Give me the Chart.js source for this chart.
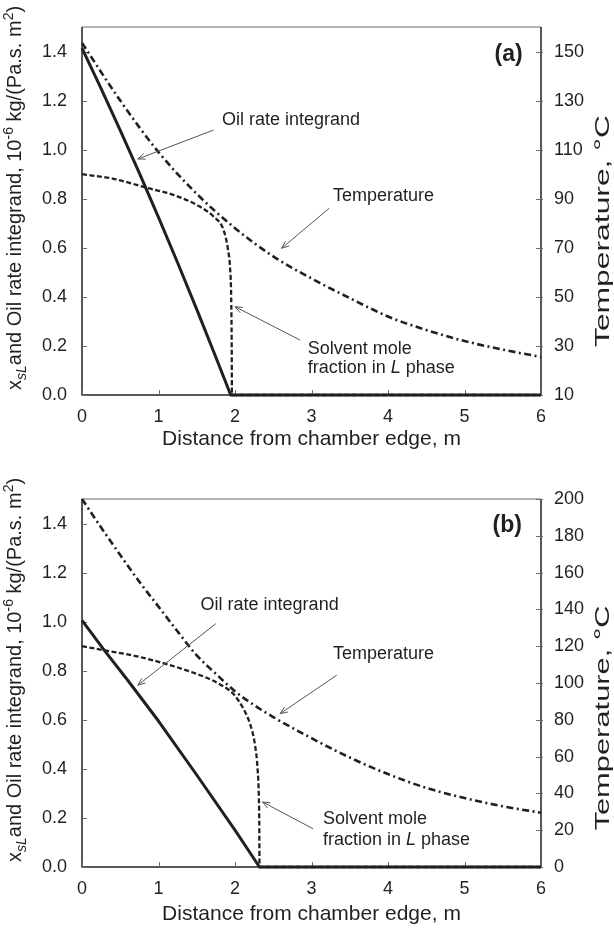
<!DOCTYPE html>
<html>
<head>
<meta charset="utf-8">
<script src="https://cdn.jsdelivr.net/npm/chart.js@4.4.1/dist/chart.umd.min.js"></script>
<style>
  html, body { margin: 0; padding: 0; background: #fff; }
  .panel { width: 614px; height: 464px; }
</style>
</head>
<body>
<div class="panel"><canvas id="chartA" width="614" height="464"></canvas></div>
<div class="panel"><canvas id="chartB" width="614" height="464"></canvas></div>
<script>
// ---- axis ticks ----
const distanceTicks = [0, 1, 2, 3, 4, 5, 6];
const fractionTicks = [0, 0.2, 0.4, 0.6, 0.8, 1.0, 1.2, 1.4];
const tempTicksA = [10, 30, 50, 70, 90, 110, 130, 150];
const tempTicksB = [0, 20, 40, 60, 80, 100, 120, 140, 160, 180, 200];

// ---- panel (a) ----
const oilDistA = [0, 0.25, 0.5, 0.75, 1.0, 1.25, 1.5, 1.75, 1.944, 6];
const oilRateA = [1.414, 1.249, 1.079, 0.904, 0.724, 0.539, 0.349, 0.154, 0, 0];
const solventDistA = [0, 0.4, 0.867, 1.2, 1.54, 1.72, 1.85, 1.91, 1.935, 1.95, 1.957, 1.96, 6];
const solventFracA = [0.9, 0.882, 0.843, 0.815, 0.768, 0.727, 0.673, 0.59, 0.52, 0.4, 0.2, 0, 0];
const tempDistA = [0, 0.5, 1, 1.5, 2, 2.5, 3, 3.5, 4, 4.5, 5, 5.5, 6];
const tempA = [153.5, 130, 109, 92, 78, 66.5, 57.5, 49.5, 42, 36.5, 32, 28.5, 25.5];

// ---- panel (b) ----
const oilDistB = [0, 0.3, 0.6, 1.0, 1.5, 2.0, 2.32, 6];
const oilRateB = [1.005, 0.88, 0.76, 0.595, 0.375, 0.15, 0, 0];
const solventDistB = [0, 0.3, 0.7, 1.085, 1.4, 1.6, 1.8, 1.98, 2.11, 2.2, 2.26, 2.295, 2.312, 2.318, 2.32, 6];
const solventFracB = [0.9, 0.883, 0.86, 0.829, 0.798, 0.775, 0.745, 0.705, 0.645, 0.58, 0.5, 0.4, 0.28, 0.15, 0, 0];
const tempDistB = [0, 0.25, 0.5, 0.75, 1, 1.25, 1.5, 1.75, 2, 2.25, 2.5, 3, 3.5, 4, 4.5, 5, 5.5, 6];
const tempB = [200, 184.5, 169.5, 155, 141.5, 128, 115, 105, 95.5, 88, 81.5, 70, 59.5, 50.5, 43, 37.5, 33, 29.5];

const INK = '#231f20';
const FONT = '"Liberation Sans", Arial, Helvetica, sans-serif';
Chart.defaults.font.family = FONT;
Chart.defaults.color = INK;

const toPoints = (xs, ys) => xs.map((x, i) => ({ x: x, y: ys[i] }));

function drawRuns(ctx, runs, x, y) {
  let cx = x;
  runs.forEach(r => {
    ctx.font = r.font + ' ' + FONT;
    ctx.fillText(r.text, cx, y + (r.dy || 0));
    cx += ctx.measureText(r.text).width;
  });
}

function arrow(ctx, x1, y1, x2, y2) {
  const ang = Math.atan2(y2 - y1, x2 - x1);
  const len = 8, spread = 0.38;
  ctx.beginPath();
  ctx.moveTo(x1, y1);
  ctx.lineTo(x2, y2);
  ctx.moveTo(x2 - len * Math.cos(ang - spread), y2 - len * Math.sin(ang - spread));
  ctx.lineTo(x2, y2);
  ctx.lineTo(x2 - len * Math.cos(ang + spread), y2 - len * Math.sin(ang + spread));
  ctx.stroke();
}

function panelDecor(panel) {
  return {
    id: 'panelDecor',
    beforeDatasetsDraw(chart) {
      const { ctx, chartArea: a, scales } = chart;
      ctx.save();
      // frame
      ctx.lineWidth = 1.5;
      ctx.strokeStyle = '#9a9a9a';
      ctx.beginPath(); ctx.moveTo(a.left, a.top); ctx.lineTo(a.right, a.top); ctx.stroke();
      ctx.strokeStyle = INK;
      ctx.beginPath();
      ctx.moveTo(a.left, a.top); ctx.lineTo(a.left, a.bottom); ctx.lineTo(a.right, a.bottom);
      ctx.moveTo(a.right, a.top); ctx.lineTo(a.right, a.bottom);
      ctx.stroke();
      // inside tick marks
      ctx.lineWidth = 1;
      ctx.strokeStyle = '#6d6d6d';
      ctx.beginPath();
      distanceTicks.forEach(v => {
        const px = Math.round(scales.x.getPixelForValue(v)) + 0.5;
        ctx.moveTo(px, a.bottom); ctx.lineTo(px, a.bottom - 5);
      });
      fractionTicks.forEach(v => {
        const py = Math.round(scales.y.getPixelForValue(v)) + 0.5;
        ctx.moveTo(a.left, py); ctx.lineTo(a.left + 5, py);
      });
      panel.tempTicks.forEach(v => {
        const py = Math.round(scales.y2.getPixelForValue(v)) + 0.5;
        ctx.moveTo(a.right - 5, py); ctx.lineTo(a.right + 2, py);
      });
      ctx.stroke();
      ctx.restore();
    },
    afterDatasetsDraw(chart) {
      const { ctx, chartArea: a, scales } = chart;
      const px = v => scales.x.getPixelForValue(v);
      const py = v => scales.y.getPixelForValue(v);
      ctx.save();
      ctx.fillStyle = INK;
      ctx.textBaseline = 'middle';
      ctx.textAlign = 'left';
      // notes and arrows
      panel.notes.forEach(n => drawRuns(ctx, n.runs, px(n.x), py(n.y)));
      ctx.strokeStyle = '#555';
      ctx.lineWidth = 1;
      panel.arrows.forEach(ar => arrow(ctx, px(ar[0]), py(ar[1]), px(ar[2]), py(ar[3])));
      // panel tag
      ctx.textAlign = 'right';
      ctx.font = 'bold 23px ' + FONT;
      ctx.fillText(panel.tag, px(panel.tagPos[0]), py(panel.tagPos[1]));
      // x title
      ctx.textAlign = 'center';
      ctx.font = '21px ' + FONT;
      ctx.fillText('Distance from chamber edge, m', (a.left + a.right) / 2, a.bottom + panel.xTitleGap);
      // left title (rotated)
      ctx.save();
      ctx.translate(21, a.bottom - 5);
      ctx.rotate(-Math.PI / 2);
      ctx.textAlign = 'left';
      ctx.textBaseline = 'alphabetic';
      drawRuns(ctx, [
        { text: 'x', font: '20px' },
        { text: 'sL', font: 'italic 14px', dy: 5 },
        { text: 'and Oil rate integrand, 10', font: '20px' },
        { text: '-6', font: '14px', dy: -8 },
        { text: ' kg/(Pa.s. m', font: '20px' },
        { text: '2', font: '14px', dy: -8 },
        { text: ')', font: '20px' }
      ], 0, 0);
      ctx.restore();
      // right title (rotated)
      ctx.save();
      ctx.translate(609, panel.rightTitleY);
      ctx.rotate(-Math.PI / 2);
      ctx.textAlign = 'center';
      ctx.textBaseline = 'alphabetic';
      ctx.font = '20px ' + FONT;
      const rt = 'Temperature, \u00B0C';
      ctx.scale(panel.rightTitleLen / ctx.measureText(rt).width, 1);
      ctx.fillText(rt, 0, 0);
      ctx.restore();
      ctx.restore();
    }
  };
}

function buildPanel(canvasId, panel) {
  const canvas = document.getElementById(canvasId);
  const H = canvas.height;
  const tickFont = { size: 18 };
  return new Chart(canvas, {
    type: 'line',
    data: {
      datasets: [
        {
          label: 'Oil rate integrand',
          data: toPoints(panel.oilDist, panel.oilRate),
          yAxisID: 'y',
          borderColor: INK,
          borderWidth: 3,
          tension: 0,
          borderJoinStyle: 'round',
          clip: 4
        },
        {
          label: 'Solvent mole fraction in L phase',
          data: toPoints(panel.solventDist, panel.solventFrac),
          yAxisID: 'y',
          borderColor: INK,
          borderWidth: 2.3,
          borderDash: [5, 2.5],
          cubicInterpolationMode: 'monotone',
          clip: 4
        },
        {
          label: 'Temperature',
          data: toPoints(panel.tempDist, panel.temp),
          yAxisID: 'y2',
          borderColor: INK,
          borderWidth: 2.6,
          borderDash: [7, 3.5, 2, 3.5],
          cubicInterpolationMode: 'monotone',
          clip: 4
        }
      ]
    },
    options: {
      responsive: false,
      animation: false,
      devicePixelRatio: 1,
      layout: { padding: { top: panel.plotTop, left: 0, right: 0, bottom: 0 } },
      elements: { point: { radius: 0, hoverRadius: 0 } },
      plugins: { legend: { display: false }, tooltip: { enabled: false } },
      scales: {
        x: {
          type: 'linear',
          position: 'bottom',
          min: 0,
          max: 6,
          afterFit: s => { s.height = H - panel.plotBottom; },
          afterBuildTicks: s => { s.ticks = distanceTicks.map(v => ({ value: v })); },
          ticks: { font: tickFont, color: INK, padding: 3, maxRotation: 0 },
          grid: { display: false },
          border: { display: false }
        },
        y: {
          type: 'linear',
          position: 'left',
          min: 0,
          max: 1.5,
          afterFit: s => { s.width = 82; },
          afterBuildTicks: s => { s.ticks = fractionTicks.map(v => ({ value: v })); },
          ticks: { font: tickFont, color: INK, padding: 7, callback: v => v.toFixed(1) },
          grid: { display: false },
          border: { display: false }
        },
        y2: {
          type: 'linear',
          position: 'right',
          min: panel.tempMin,
          max: panel.tempMax,
          afterFit: s => { s.width = 73; },
          afterBuildTicks: s => { s.ticks = panel.tempTicks.map(v => ({ value: v })); },
          ticks: { font: tickFont, color: INK, padding: 5, callback: v => String(v) },
          grid: { display: false },
          border: { display: false }
        }
      }
    },
    plugins: [panelDecor(panel)]
  });
}

const phaseRuns = [
  { text: 'fraction in ', font: '18px' },
  { text: 'L', font: 'italic 18px' },
  { text: ' phase', font: '18px' }
];

buildPanel('chartA', {
  oilDist: oilDistA, oilRate: oilRateA,
  solventDist: solventDistA, solventFrac: solventFracA,
  tempDist: tempDistA, temp: tempA,
  tempMin: 10, tempMax: 160, tempTicks: tempTicksA,
  plotTop: 27, plotBottom: 395, xTitleGap: 44,
  rightTitleY: 231, rightTitleLen: 232,
  tag: '(a)', tagPos: [5.76, 1.386],
  notes: [
    { x: 1.83, y: 1.119, runs: [{ text: 'Oil rate integrand', font: '18px' }] },
    { x: 3.28, y: 0.813, runs: [{ text: 'Temperature', font: '18px' }] },
    { x: 2.95, y: 0.186, runs: [{ text: 'Solvent mole', font: '18px' }] },
    { x: 2.95, y: 0.109, runs: phaseRuns }
  ],
  arrows: [
    [1.72, 1.08, 0.73, 0.962],
    [3.23, 0.761, 2.61, 0.598],
    [2.85, 0.224, 2.0, 0.36]
  ]
});

buildPanel('chartB', {
  oilDist: oilDistB, oilRate: oilRateB,
  solventDist: solventDistB, solventFrac: solventFracB,
  tempDist: tempDistB, temp: tempB,
  tempMin: 0, tempMax: 200, tempTicks: tempTicksB,
  plotTop: 35, plotBottom: 403, xTitleGap: 47,
  rightTitleY: 254, rightTitleLen: 225,
  tag: '(b)', tagPos: [5.75, 1.393],
  notes: [
    { x: 1.55, y: 1.067, runs: [{ text: 'Oil rate integrand', font: '18px' }] },
    { x: 3.28, y: 0.867, runs: [{ text: 'Temperature', font: '18px' }] },
    { x: 3.15, y: 0.197, runs: [{ text: 'Solvent mole', font: '18px' }] },
    { x: 3.15, y: 0.111, runs: phaseRuns }
  ],
  arrows: [
    [1.75, 0.992, 0.73, 0.741],
    [3.33, 0.782, 2.59, 0.625],
    [3.02, 0.156, 2.36, 0.265]
  ]
});
</script>
</body>
</html>
